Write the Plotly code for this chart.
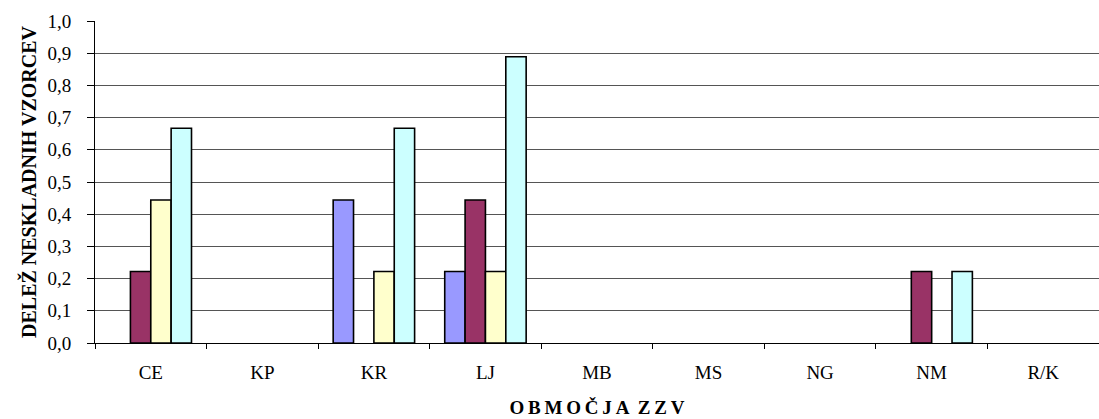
import plotly.graph_objects as go

categories = ["CE", "KP", "KR", "LJ", "MB", "MS", "NG", "NM", "R/K"]
series_1 = [0, 0, 0.444, 0.222, 0, 0, 0, 0, 0]
series_2 = [0.222, 0, 0, 0.444, 0, 0, 0, 0.222, 0]
series_3 = [0.444, 0, 0.222, 0.222, 0, 0, 0, 0, 0]
series_4 = [0.667, 0, 0.667, 0.889, 0, 0, 0, 0.222, 0]
colors = ["#9999FF", "#993366", "#FFFFCC", "#CCFFFF"]
y_ticks = [0, 0.1, 0.2, 0.3, 0.4, 0.5, 0.6, 0.7, 0.8, 0.9, 1.0]

fig = go.Figure()
for vals, col in zip([series_1, series_2, series_3, series_4], colors):
    fig.add_trace(go.Bar(
        x=categories, y=[v if v != 0 else None for v in vals],
        marker=dict(color=col, line=dict(color="black", width=1.6)),
        showlegend=False,
    ))

ts = "\u2009"
x_title = ts.join("OBMOČJA") + "  " + ts.join("ZZV")

font_family = "Liberation Serif"
fig.update_layout(
    width=1099, height=419,
    margin=dict(l=95, r=0, t=21, b=76),
    paper_bgcolor="white", plot_bgcolor="white",
    barmode="group", bargap=0.27, bargroupgap=0,
    separators=", ",
    font=dict(family=font_family, size=19, color="black"),
    xaxis=dict(
        showline=True, linecolor="black", linewidth=1,
        ticks="outside", tickson="boundaries", ticklen=5, tickcolor="black",
        tickfont=dict(size=19), showgrid=False, ticklabelstandoff=12,
        title=dict(text="<b>" + x_title + "</b>", font=dict(size=19), standoff=18),
    ),
    yaxis=dict(
        range=[0, 1.0], tickvals=y_ticks, tickformat=".1f",
        showline=True, linecolor="black", linewidth=1,
        ticks="outside", ticklen=7, tickcolor="black",
        showgrid=True, gridcolor="#555555", gridwidth=1,
        tickfont=dict(size=19), zeroline=False, ticklabelstandoff=12,
        title=dict(text="<b>DELEŽ NESKLADNIH VZORCEV</b>", font=dict(size=20), standoff=5),
    ),
)

fig.write_html("out.html", post_script="document.body.style.margin='0';",
               config={"displayModeBar": False})
